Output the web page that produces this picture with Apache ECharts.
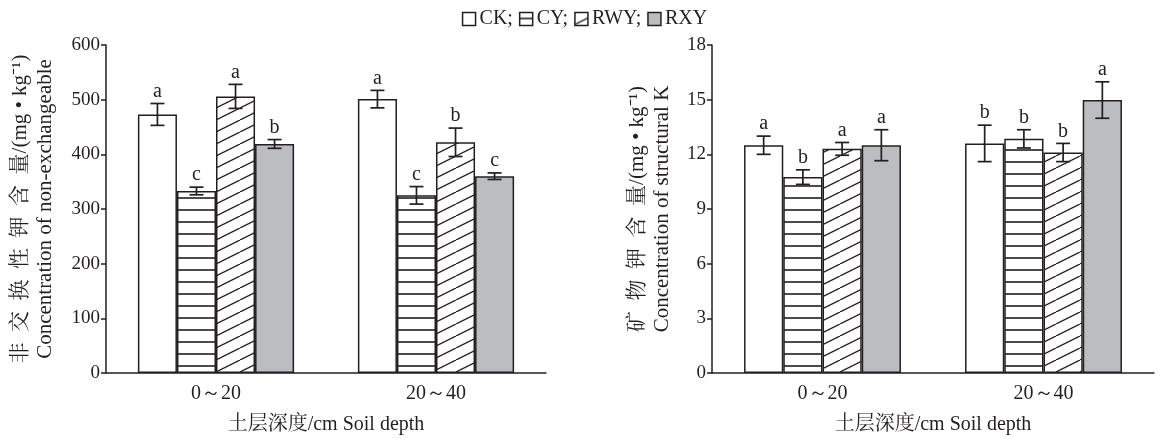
<!DOCTYPE html>
<html>
<head>
<meta charset="utf-8">
<script src="https://cdn.jsdelivr.net/npm/echarts@6/dist/echarts.min.js"></script>
<style>
html,body{margin:0;padding:0;background:#fff;}
#chart{width:1169px;height:439px;}
</style>
</head>
<body>
<div id="chart"></div>
<script>
// ---- data ----
const categories = ['0～20', '20～40'];
const seriesNames = ['CK', 'CY', 'RWY', 'RXY'];

// Non-exchangeable K (mg/kg)
const nonExCK  = [473, 501];
const nonExCY  = [333, 325];
const nonExRWY = [506, 422];
const nonExRXY = [419, 360];
const nonExErrCK  = [20, 16];
const nonExErrCY  = [7, 16];
const nonExErrRWY = [22, 26];
const nonExErrRXY = [8, 6];
const nonExLetCK  = ['a', 'a'];
const nonExLetCY  = ['c', 'c'];
const nonExLetRWY = ['a', 'b'];
const nonExLetRXY = ['b', 'c'];

// Structural K (mg/kg)
const strCK  = [12.5, 12.6];
const strCY  = [10.75, 12.85];
const strRWY = [12.3, 12.1];
const strRXY = [12.5, 14.98];
const strErrCK  = [0.5, 1.0];
const strErrCY  = [0.4, 0.5];
const strErrRWY = [0.35, 0.5];
const strErrRXY = [0.85, 1.0];
const strLetCK  = ['a', 'b'];
const strLetCY  = ['b', 'b'];
const strLetRWY = ['a', 'b'];
const strLetRXY = ['a', 'a'];

const leftTicks = [0, 600, 100];
const rightTicks = [0, 18, 3];

// ---- patterns ----
function hPattern() {
  const c = document.createElement('canvas');
  c.width = 12; c.height = 12;
  const g = c.getContext('2d');
  g.fillStyle = '#fff'; g.fillRect(0, 0, 12, 12);
  g.strokeStyle = '#231f20'; g.lineWidth = 1.6;
  g.beginPath(); g.moveTo(0, 6); g.lineTo(12, 6); g.stroke();
  return c;
}
function dPattern() {
  const w = 24, h = 12;
  const c = document.createElement('canvas');
  c.width = w; c.height = h;
  const g = c.getContext('2d');
  g.fillStyle = '#fff'; g.fillRect(0, 0, w, h);
  g.strokeStyle = '#231f20'; g.lineWidth = 1.3;
  g.beginPath();
  g.moveTo(0, h); g.lineTo(w, 0);
  g.moveTo(-w, h); g.lineTo(0, 0);
  g.moveTo(w, h); g.lineTo(2 * w, 0);
  g.stroke();
  return c;
}
const fills = [
  '#ffffff',
  { image: hPattern(), repeat: 'repeat' },
  { image: dPattern(), repeat: 'repeat' },
  '#bcbdc0'
];

const font = '"Liberation Serif","Times New Roman",serif';
const cjkFont = '"Liberation Serif","Noto Serif CJK SC","Noto Sans CJK SC",serif';
const ink = '#231f20';

const leftVals = [nonExCK, nonExCY, nonExRWY, nonExRXY];
const leftErrs = [nonExErrCK, nonExErrCY, nonExErrRWY, nonExErrRXY];
const leftLets = [nonExLetCK, nonExLetCY, nonExLetRWY, nonExLetRXY];
const rightVals = [strCK, strCY, strRWY, strRXY];
const rightErrs = [strErrCK, strErrCY, strErrRWY, strErrRXY];
const rightLets = [strLetCK, strLetCY, strLetRWY, strLetRXY];

const CAT_GAP = 0.29;

function barSeries(vals, axisIdx) {
  return vals.map((v, i) => ({
    name: seriesNames[i],
    type: 'bar',
    xAxisIndex: axisIdx, yAxisIndex: axisIdx,
    data: v,
    barGap: '0%',
    barCategoryGap: (CAT_GAP * 100) + '%',
    itemStyle: { color: fills[i], borderColor: ink, borderWidth: 1.5 },
    emphasis: { disabled: true },
    z: 2
  }));
}

function errSeries(vals, errs, lets, axisIdx) {
  const data = [];
  for (let s = 0; s < vals.length; s++) {
    for (let c = 0; c < categories.length; c++) {
      data.push([c, vals[s][c], errs[s][c], s, lets[s][c]]);
    }
  }
  return {
    type: 'custom',
    xAxisIndex: axisIdx, yAxisIndex: axisIdx,
    data: data,
    z: 5,
    silent: true,
    renderItem: function (params, api) {
      const c = api.value(0), v = api.value(1), e = api.value(2), s = api.value(3);
      const letter = data[params.dataIndex][4];
      const band = api.size([1, 0])[0];
      const bw = band * (1 - CAT_GAP) / 4;
      const center = api.coord([c, v]);
      const x = center[0] + (s - 1.5) * bw;
      const yTop = api.coord([c, v + e])[1];
      const yBot = api.coord([c, v - e])[1];
      const cap = 7;
      const st = { stroke: ink, lineWidth: 1.7 };
      return {
        type: 'group',
        children: [
          { type: 'line', shape: { x1: x, y1: yTop, x2: x, y2: yBot }, style: st },
          { type: 'line', shape: { x1: x - cap, y1: yTop, x2: x + cap, y2: yTop }, style: st },
          { type: 'line', shape: { x1: x - cap, y1: yBot, x2: x + cap, y2: yBot }, style: st },
          { type: 'text', x: x, y: yTop - 2, style: {
              text: letter, fill: ink, font: '20px ' + font,
              align: 'center', verticalAlign: 'bottom' } }
        ]
      };
    }
  };
}

function xAxisCfg(gridIdx) {
  return {
    type: 'category', gridIndex: gridIdx, data: categories,
    axisLine: { lineStyle: { color: ink, width: 1.5 } },
    axisTick: { inside: true, length: 6, lineStyle: { color: ink, width: 1.5 } },
    axisLabel: { color: ink, fontFamily: font, fontSize: 20, margin: 11 },
    name: '土层深度/cm Soil depth',
    nameLocation: 'middle', nameGap: 42,
    nameTextStyle: { color: ink, fontFamily: cjkFont, fontSize: 20 }
  };
}
function yAxisCfg(gridIdx, ticks, name, gap) {
  return {
    type: 'value', gridIndex: gridIdx,
    min: ticks[0], max: ticks[1], interval: ticks[2],
    axisLine: { show: true, lineStyle: { color: ink, width: 1.5 } },
    axisTick: { show: true, length: 5, lineStyle: { color: ink, width: 1.5 } },
    axisLabel: { color: ink, fontFamily: font, fontSize: 19, margin: 6 },
    splitLine: { show: false },
    name: name, nameLocation: 'middle', nameRotate: 90, nameGap: gap,
    nameTextStyle: { color: ink, fontFamily: cjkFont, fontSize: 21, lineHeight: 25, align: 'center' }
  };
}

const chart = echarts.init(document.getElementById('chart'), null, { renderer: 'canvas' });
chart.setOption({
  animation: false,
  backgroundColor: '#ffffff',
  legend: {
    data: seriesNames,
    top: 4, left: 'center',
    itemWidth: 13, itemHeight: 13, itemGap: 6,
    icon: 'rect',
    textStyle: { color: ink, fontFamily: font, fontSize: 20, padding: [0, 0, 0, -1] },
    formatter: function (n) { return n === 'RXY' ? n : n + ';'; },
    itemStyle: { borderColor: ink, borderWidth: 1.5 },
    selectedMode: false
  },
  grid: [
    { left: 106, right: 623, top: 45, bottom: 66, containLabel: false, outerBoundsMode: 'none' },
    { left: 712, right: 15, top: 45, bottom: 66, containLabel: false, outerBoundsMode: 'none' }
  ],
  xAxis: [xAxisCfg(0), xAxisCfg(1)],
  yAxis: [
    yAxisCfg(0, leftTicks, '非\u2002交\u2002换\u2002性\u2002钾\u2002含\u2002量/(mg • kg⁻¹)\nConcentration of non-exchangeable', 48),
    yAxisCfg(1, rightTicks, '矿\u2002物\u2002钾\u2002含\u2002量/(mg • kg⁻¹)\nConcentration of structural K', 37)
  ],
  series: [
    ...barSeries(leftVals, 0),
    ...barSeries(rightVals, 1),
    errSeries(leftVals, leftErrs, leftLets, 0),
    errSeries(rightVals, rightErrs, rightLets, 1)
  ]
});
</script>
</body>
</html>
